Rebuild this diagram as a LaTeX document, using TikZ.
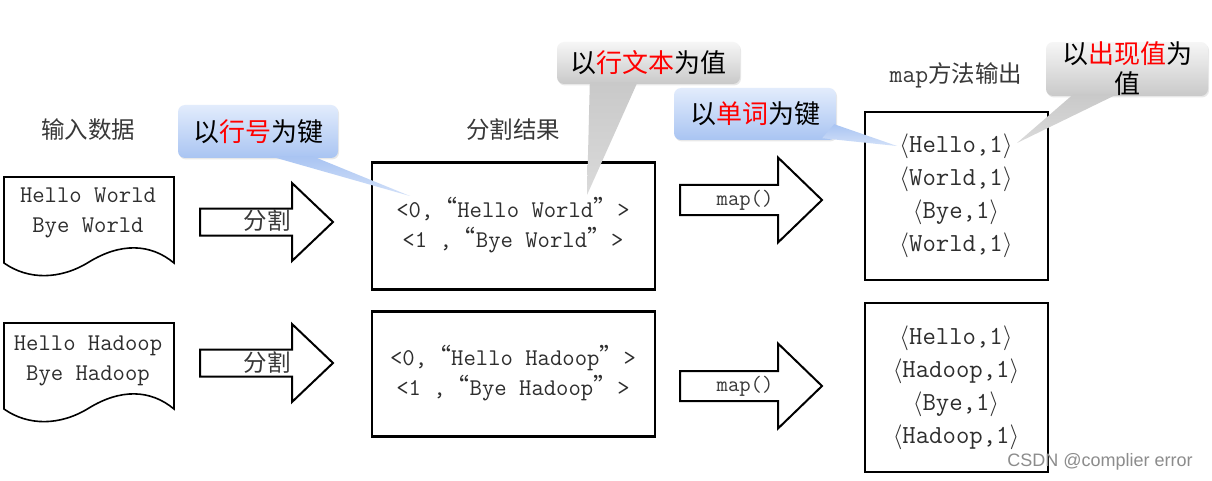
\documentclass[tikz,border=0pt]{standalone}
\usepackage{fontspec}
\newfontfamily\cjk{Noto Sans CJK SC}
\newfontfamily\wmfont{Liberation Sans}
\usetikzlibrary{calc,positioning,shadows}
\definecolor{keytop}{HTML}{E2ECFC}
\definecolor{keybottom}{HTML}{A9C4F2}
\definecolor{keytip}{HTML}{D3E1F9}
\definecolor{valtop}{HTML}{F6F6F6}
\definecolor{valbottom}{HTML}{C9C9C9}
\definecolor{valtip}{HTML}{DADADA}
\newcommand{\hl}[1]{\textcolor{red}{#1}}
\newcommand{\opq}{{\cjk “}}
\newcommand{\clq}{{\cjk ”}}
\tikzset{
    paper/.style = {
        draw, line width=1.6pt, fill=white,
        },
    box/.style = {
        draw, line width=2.6pt, inner sep=0pt,
        },
    fat arrow/.style = {
        draw, line width=2pt, line join=miter, fill=white,
        },
    record/.style = {
        text=black!82, align=center, inner sep=0pt,
        font=\fontsize{24}{30}\selectfont\ttfamily,
        },
    pair/.style = {
        text=black!82, align=center, inner sep=0pt,
        font=\fontsize{26}{33}\selectfont\ttfamily,
        },
    caption/.style = {
        text=black!78, inner sep=0pt,
        font=\fontsize{23.5}{26}\selectfont\cjk,
        },
    key tip/.style = {
        rounded corners=7pt, top color=keytop, bottom color=keybottom,
        inner sep=0pt, align=center,
        font=\fontsize{26}{30}\selectfont\cjk,
        drop shadow={opacity=0.18, shadow xshift=1pt, shadow yshift=-1.5pt},
        },
    value tip/.style = {
        key tip, top color=valtop, bottom color=valbottom,
        },
    key pointer/.style = {
        top color=keybottom, bottom color=keytip,
        },
    value pointer/.style = {
        top color=valbottom, bottom color=valtip,
        },
}

\begin{document}
\begin{tikzpicture}[x=1pt, y=-1pt]
    \useasboundingbox[fill=white] (0,0) rectangle (1212,481);

    % input documents
    \draw[paper] (4,177) -- (174,177) -- (174,263)
        .. controls (150,243) and (120,243) .. (89,262)
        .. controls (60,280) and (28,280) .. (4,263) -- cycle;
    \draw[paper, yshift=-146pt] (4,177) -- (174,177) -- (174,263)
        .. controls (150,243) and (120,243) .. (89,262)
        .. controls (60,280) and (28,280) .. (4,263) -- cycle;
    \node[caption] (incap) at (88,130) {输入数据};
    \node[record] (in1) at (88,213) {Hello World\\Bye World};
    \node[record] (in2) at (88,361) {Hello Hadoop\\Bye Hadoop};

    % split step
    \draw[fat arrow] (200,208.5) -- (292,208.5) -- (292,183) -- (333,222)
        -- (292,261) -- (292,235.5) -- (200,235.5) -- cycle;
    \draw[fat arrow] (200,349.5) -- (292,349.5) -- (292,324) -- (333,363)
        -- (292,402) -- (292,376.5) -- (200,376.5) -- cycle;
    \node[caption] (sp1) at (267,221) {分割};
    \node[caption] (sp2) at (267,363) {分割};

    \node[box, minimum width=283, minimum height=127] (split1) at (513.5,226) {};
    \node[box, minimum width=283, minimum height=125] (split2) at (513.5,374) {};
    \node[caption] (splitcap) at (513,130) {分割结果};
    \node[record] (rec1) at (513,225) {<0,\opq Hello World\clq>\\<1 ,\opq Bye World\clq>};
    \node[record] (rec2) at (513,373) {<0,\opq Hello Hadoop\clq>\\<1 ,\opq Bye Hadoop\clq>};

    % map step
    \draw[fat arrow] (680,185) -- (778,185) -- (778,157.5) -- (822,200)
        -- (778,242.5) -- (778,215) -- (680,215) -- cycle;
    \draw[fat arrow] (680,371) -- (778,371) -- (778,343.5) -- (822,386)
        -- (778,428.5) -- (778,401) -- (680,401) -- cycle;
    \node[caption, font=\fontsize{22}{26}\selectfont\ttfamily] (mp1) at (745,200) {map()};
    \node[caption, font=\fontsize{22}{26}\selectfont\ttfamily] (mp2) at (745,386) {map()};

    \node[box, minimum width=183, minimum height=168] (out1) at (956.5,196) {};
    \node[box, minimum width=183, minimum height=169] (out2) at (956.5,387.5) {};
    \node[caption] (outcap) at (956,75) {{\fontsize{25}{26}\selectfont\ttfamily map}方法输出};
    \node[pair] (pairs1) at (956,196)
        {$\langle$Hello,1$\rangle$\\$\langle$World,1$\rangle$\\$\langle$Bye,1$\rangle$\\$\langle$World,1$\rangle$};
    \node[pair] (pairs2) at (956,387.5)
        {$\langle$Hello,1$\rangle$\\$\langle$Hadoop,1$\rangle$\\$\langle$Bye,1$\rangle$\\$\langle$Hadoop,1$\rangle$};

    % callouts
    \node[key tip, minimum width=160, minimum height=53] (c1) at (258,131.5) {以\hl{行号}为键};
    \coordinate (p1) at (410,196);
    \shade[key pointer] ($(c1.south west)!0.575!(c1.south east)+(0,-2)$) -- (p1)
        -- ($(c1.south west)!0.84!(c1.south east)+(0,-2)$) -- cycle;

    \node[value tip, minimum width=183, minimum height=42] (c2) at (648.5,63) {以\hl{行文本}为值};
    \coordinate (p2) at (587,195);
    \shade[value pointer] ($(c2.south west)!0.18!(c2.south east)+(0,-2)$) -- (p2)
        -- ($(c2.south west)!0.44!(c2.south east)+(0,-2)$) -- cycle;

    \node[key tip, minimum width=162, minimum height=52] (c3) at (755,114) {以\hl{单词}为键};
    \coordinate (p3) at (897,146);
    \shade[key pointer] ($(c3.south east)+(-2,-16)$) -- (p3)
        -- ($(c3.south east)+(-14,-2)$) -- cycle;

    \node[value tip, minimum width=162, minimum height=50] (c4) at (1127,69) {以\hl{出现值}为\\值};
    \coordinate (p4) at (1017,143);
    \shade[value pointer] ($(c4.south west)!0.17!(c4.south east)+(0,-2)$) -- (p4)
        -- ($(c4.south west)!0.44!(c4.south east)+(0,-2)$) -- cycle;

    \node[text=black!45, inner sep=0pt, font=\fontsize{18}{20}\selectfont\wmfont] (mark) at (1100,462) {CSDN @complier error};
\end{tikzpicture}
\end{document}
